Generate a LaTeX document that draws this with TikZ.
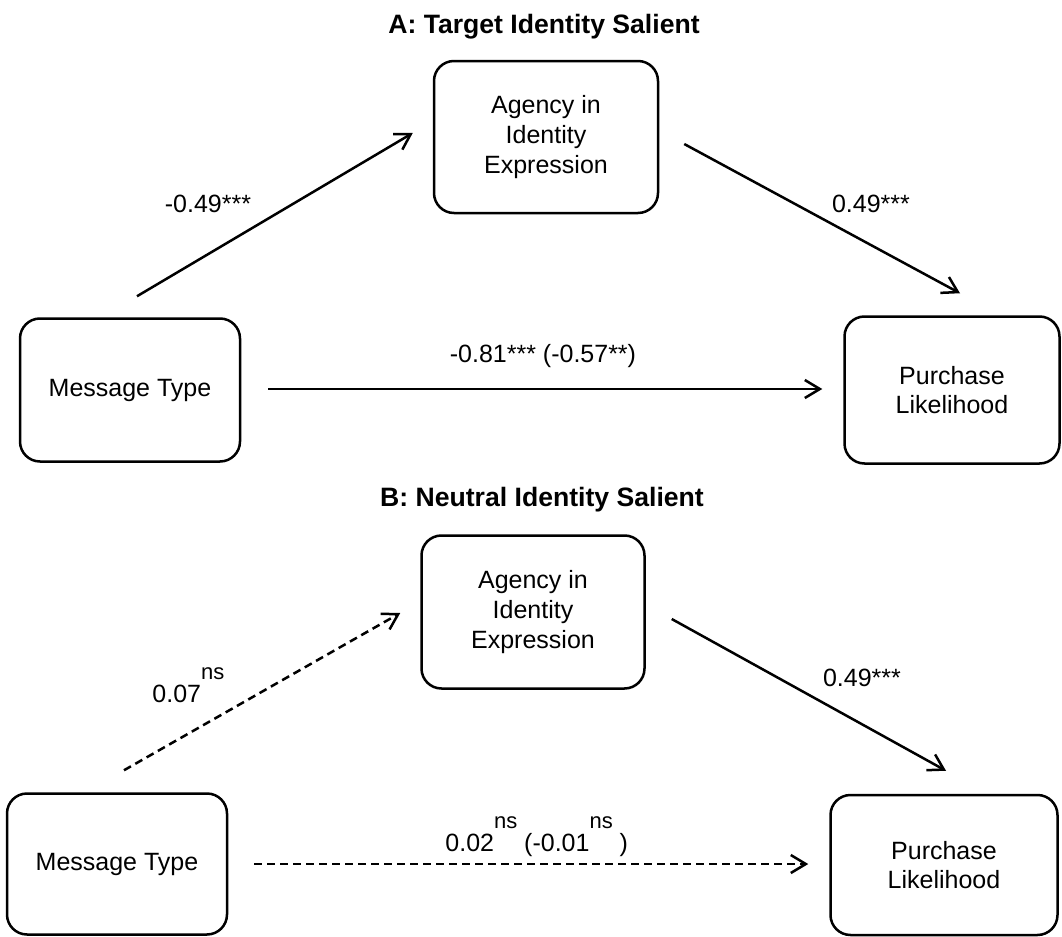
\documentclass[tikz,border=0pt]{standalone}
\usepackage{fontspec}
\setmainfont{Liberation Sans}
\usetikzlibrary{arrows.meta,positioning}
\newcommand{\nsup}{\raisebox{11.5pt}{\fontsize{11}{12}\selectfont ns}}
\tikzset{
  arr/.style={-{Straight Barb[length=7.5pt,width=9pt]},line width=1.25pt},
  dsh/.style={arr,dash pattern=on 4pt off 2.5pt},
}
\begin{document}
\begin{tikzpicture}[x=0.5pt,y=-0.5pt,
box/.style={rectangle,draw,line width=1.25pt,rounded corners=10pt,
align=center,inner sep=0pt,font=\fontsize{12.5}{14.8}\selectfont},
lab/.style={font=\fontsize{12.5}{15}\selectfont,inner sep=0pt},
ttl/.style={font=\fontsize{13.3}{16}\selectfont\bfseries,inner sep=0pt},
]
\useasboundingbox (0,0) rectangle (1062,937);
\begin{scope}
\node (ttlA) [ttl,anchor=base] at (544,33) {A: Target Identity Salient};
\node (agA) [box,minimum width=112pt,minimum height=76pt] at (546,137) {Agency in\\Identity\\Expression};
\node (msgA) [box,minimum width=110pt,minimum height=71.5pt] at (130,390) {Message Type};
\node (purA) [box,minimum width=107.5pt,minimum height=73.5pt] at (952,390) {Purchase\\Likelihood};
\node (cA1) [lab,anchor=base] at (208,212) {-0.49***};
\node (cA2) [lab,anchor=base] at (871,212) {0.49***};
\node (cA3) [lab,anchor=base] at (543,362) {-0.81*** (-0.57**)};
\draw[arr] ([shift={(7,-21)}]msgA.north) -- ([shift={(-20,-4)}]agA.west);
\draw[arr] ([shift={(25,7)}]agA.east) -- ([shift={(8,-22)}]purA.north);
\draw[arr] ([shift={(27,-1)}]msgA.east) -- ([shift={(-21,-1)}]purA.west);
\end{scope}
\begin{scope}
\node (ttlB) [ttl,anchor=base] at (542,506) {B: Neutral Identity Salient};
\node (agB) [box,minimum width=111.5pt,minimum height=76.5pt] at (533,612) {Agency in\\Identity\\Expression};
\node (msgB) [box,minimum width=110pt,minimum height=70.5pt] at (117,864) {Message Type};
\node (purB) [box,minimum width=113.5pt,minimum height=70pt] at (944,865) {Purchase\\Likelihood};
\node (cB1) [lab,anchor=base west] at (152,702) {0.07\nsup};
\node (cB2) [lab,anchor=base] at (862,686) {0.49***};
\node (cB3) [lab,anchor=base west] at (445,851) {0.02\nsup\ (-0.01\nsup\ )};
\draw[dsh] ([shift={(7,-22)}]msgB.north) -- ([shift={(-20,1)}]agB.west);
\draw[arr] ([shift={(26,7)}]agB.east) -- ([shift={(2,-23)}]purB.north);
\draw[dsh] ([xshift=13pt]msgB.east) -- ([shift={(-21,-1)}]purB.west);
\end{scope}
\end{tikzpicture}
\end{document}
